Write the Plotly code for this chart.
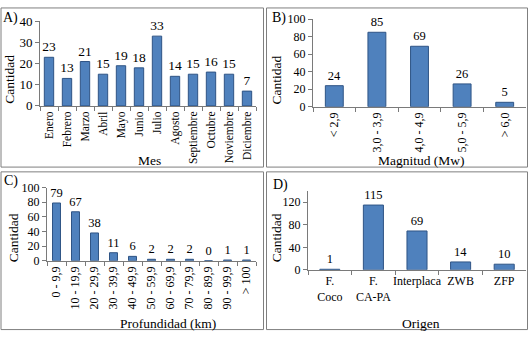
import plotly.graph_objects as go

W, H = 529, 339
FONT = "Liberation Serif"
BAR = "#4F81BD"
EDGE = "#2F5485"
AXC = "#7a7a7a"

meses = ["Enero", "Febrero", "Marzo", "Abril", "Mayo", "Junio", "Julio",
         "Agosto", "Septiembre", "Octubre", "Noviembre", "Diciembre"]
cant_mes = [23, 13, 21, 15, 19, 18, 33, 14, 15, 16, 15, 7]

magnitudes = ["< 2,9", "3,0 - 3,9", "4,0 - 4,9", "5,0 - 5,9", "> 6,0"]
cant_mag = [24, 85, 69, 26, 5]

profundidades = ["0 - 9,9", "10 - 19,9", "20 - 29,9", "30 - 39,9", "40 - 49,9",
                 "50 - 59,9", "60 - 69,9", "70 - 79,9", "80 - 89,9", "90 - 99,9", "> 100"]
cant_prof = [79, 67, 38, 11, 6, 2, 2, 2, 0, 1, 1]

origenes = ["F.<br>Coco", "F.<br>CA-PA", "Interplaca", "ZWB", "ZFP"]
cant_orig = [1, 115, 69, 14, 10]


def fx(p):
    return p / W


def fy(p):
    return 1 - p / H


fig = go.Figure()

panels = [
    (meses, cant_mes, "x", "y", 13.5, 0.52),
    (magnitudes, cant_mag, "x2", "y2", 12.5, 0.42),
    (profundidades, cant_prof, "x3", "y3", 12.5, 0.42),
    (origenes, cant_orig, "x4", "y4", 12.5, 0.46),
]
for cats, vals, xa, ya, fs, bw in panels:
    fig.add_trace(go.Bar(
        x=cats, y=vals, xaxis=xa, yaxis=ya, width=bw,
        marker=dict(color=BAR, line=dict(color=EDGE, width=1)),
        text=[str(v) for v in vals], textposition="outside",
        textfont=dict(family=FONT, size=fs, color="black"),
        constraintext="none",
        cliponaxis=False, showlegend=False, hoverinfo="skip",
    ))


def xax(dom, anchor, angle, fs):
    return dict(domain=dom, anchor=anchor, type="category", showline=True,
                linecolor=AXC, linewidth=1, ticks="outside", tickson="boundaries",
                ticklen=4, tickcolor=AXC, tickangle=angle, showgrid=False,
                tickfont=dict(family=FONT, size=fs, color="black"), zeroline=False)


def yax(dom, anchor, rng, tickvals, fs):
    return dict(domain=dom, anchor=anchor, range=rng, tickvals=tickvals,
                showline=True, linecolor=AXC, linewidth=1, ticks="outside",
                ticklen=4, tickcolor=AXC, showgrid=False, zeroline=False,
                tickfont=dict(family=FONT, size=fs, color="black"))


fig.update_layout(
    width=W, height=H, margin=dict(l=0, r=0, t=0, b=0),
    paper_bgcolor="white", plot_bgcolor="white",
    font=dict(family=FONT, color="black"),
    xaxis=xax([fx(40), fx(256)], "y", -90, 11.5),
    yaxis=yax([fy(103.5), fy(15)], "x", [0, 40], [0, 10, 20, 30, 40], 13),
    xaxis2=xax([fx(313), fx(526)], "y2", -90, 12),
    yaxis2=yax([fy(104.3), fy(12.7)], "x2", [0, 100], [0, 20, 40, 60, 80, 100], 12),
    xaxis3=xax([fx(47), fx(256)], "y3", -90, 12),
    yaxis3=yax([fy(265.5), fy(189)], "x3", [0, 100], [0, 20, 40, 60, 80, 100], 12),
    xaxis4=xax([fx(308), fx(526)], "y4", 0, 12),
    yaxis4=yax([fy(275), fy(192.5)], "x4", [0, 140], [0, 40, 80, 120], 12),
)

# panel borders
for x0, y0, x1, y1 in [(1, 1, 263.5, 167.5), (266.5, 1, 527.5, 167.5),
                       (1, 172.5, 263.5, 337.5), (266.5, 172.5, 527.5, 337.5)]:
    fig.add_shape(type="rect", xref="paper", yref="paper",
                  x0=fx(x0), x1=fx(x1), y0=fy(y1), y1=fy(y0),
                  line=dict(color="#7f7f7f", width=1), fillcolor="rgba(0,0,0,0)")


def ann(text, x, y, size, angle=0):
    fig.add_annotation(text=text, xref="paper", yref="paper", x=fx(x), y=fy(y),
                       xanchor="center", yanchor="middle", showarrow=False,
                       textangle=angle, font=dict(family=FONT, size=size, color="black"))


ann("A)", 10, 11, 14)
ann("B)", 279, 11, 14)
ann("C)", 11, 182, 14)
ann("D)", 280, 186, 14)

ann("Cantidad", 10, 76, 13.5, -90)
ann("Cantidad", 277, 77, 13.5, -90)
ann("Cantidad", 13, 242, 13.5, -90)
ann("Cantidad", 276, 242, 13.5, -90)
ann("Mes", 149, 161, 13.5)
ann("Magnitud (Mw)", 421, 161, 13.5)
ann("Profundidad (km)", 168, 331, 13.5)
ann("Origen", 421, 331, 13.5)

fig.write_html("out.html", config={"displayModeBar": False},
               post_script="document.body.style.margin='0';document.body.style.padding='0';")
